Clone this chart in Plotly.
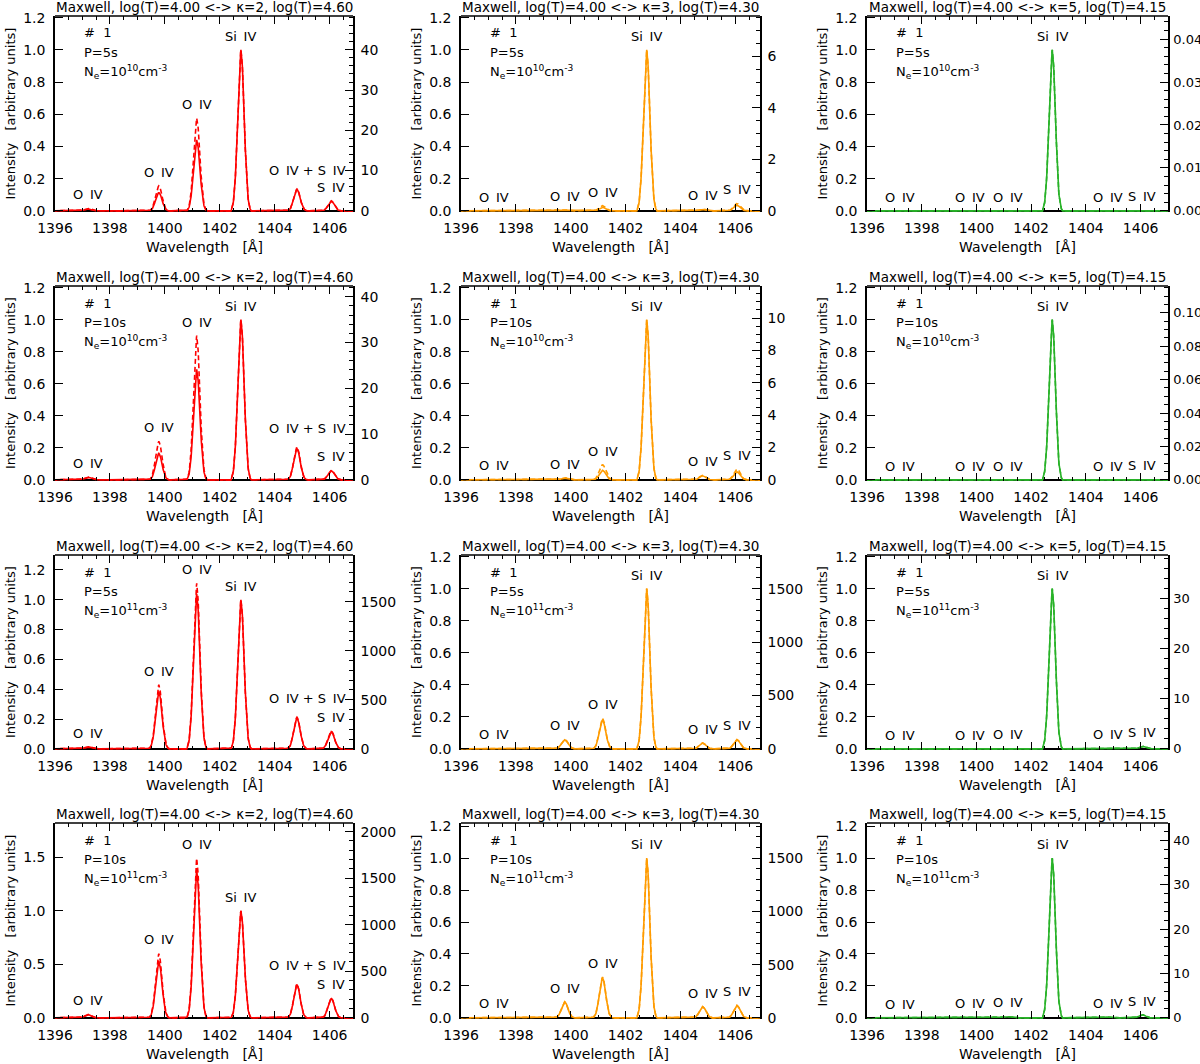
import numpy as np
import plotly.graph_objects as go

# ---------------- data ----------------
LINE_CENTERS = [1397.20, 1399.78, 1401.16, 1402.77, 1404.81, 1406.06]
LINE_NAMES_K2 = ["O  IV", "O  IV", "O  IV", "Si  IV", "O  IV + S  IV", "S  IV"]
LINE_NAMES = ["O  IV", "O  IV", "O  IV", "Si  IV", "O  IV", "S  IV"]

# normalised line profile (offset in Angstrom)
PROFILE_OFFSET = [-0.36, -0.32, -0.28, -0.24, -0.20, -0.16, -0.12, -0.08, -0.04, 0.0,
                  0.04, 0.08, 0.12, 0.16, 0.20, 0.24, 0.28, 0.32, 0.36]
PROFILE_SHAPE = [0.0, 0.02, 0.05, 0.11, 0.22, 0.38, 0.58, 0.79, 0.94, 1.0,
                 0.94, 0.79, 0.58, 0.38, 0.22, 0.11, 0.05, 0.02, 0.0]

KAPPA = ["2", "3", "5"]
LOGT_KAPPA = ["4.60", "4.30", "4.15"]
PERIOD = ["5s", "10s", "5s", "10s"]
DENSITY_EXP = ["10", "10", "11", "11"]

# peak amplitudes per line (left axis units): solid and dashed curves
R1_K2_SOLID = [0.012, 0.114, 0.44, 1.00, 0.133, 0.060]
R1_K2_DASHED = [0.015, 0.155, 0.575, 1.00, 0.135, 0.062]
R1_K3_SOLID = [0.0, 0.004, 0.022, 1.00, 0.008, 0.035]
R1_K3_DASHED = [0.0, 0.006, 0.032, 1.00, 0.010, 0.045]
R1_K5_SOLID = [0.0, 0.0, 0.0, 1.00, 0.0, 0.002]
R1_K5_DASHED = [0.0, 0.0, 0.0, 1.00, 0.0, 0.002]

R2_K2_SOLID = [0.015, 0.165, 0.69, 1.00, 0.195, 0.057]
R2_K2_DASHED = [0.018, 0.24, 0.90, 1.00, 0.205, 0.060]
R2_K3_SOLID = [0.0, 0.010, 0.060, 1.00, 0.025, 0.050]
R2_K3_DASHED = [0.002, 0.014, 0.095, 1.00, 0.028, 0.068]
R2_K5_SOLID = [0.0, 0.0, 0.001, 1.00, 0.001, 0.004]
R2_K5_DASHED = [0.0, 0.0, 0.001, 1.00, 0.001, 0.004]

R3_K2_SOLID = [0.012, 0.385, 1.04, 1.00, 0.207, 0.115]
R3_K2_DASHED = [0.014, 0.43, 1.11, 1.00, 0.212, 0.120]
R3_K3_SOLID = [0.003, 0.057, 0.18, 1.00, 0.036, 0.057]
R3_K3_DASHED = [0.003, 0.060, 0.19, 1.00, 0.037, 0.058]
R3_K5_SOLID = [0.0, 0.001, 0.003, 1.00, 0.003, 0.015]
R3_K5_DASHED = [0.0, 0.001, 0.003, 1.00, 0.003, 0.016]

R4_K2_SOLID = [0.030, 0.53, 1.38, 1.00, 0.31, 0.18]
R4_K2_DASHED = [0.033, 0.60, 1.49, 1.00, 0.315, 0.185]
R4_K3_SOLID = [0.004, 0.10, 0.25, 1.00, 0.070, 0.077]
R4_K3_DASHED = [0.004, 0.10, 0.255, 1.00, 0.070, 0.078]
R4_K5_SOLID = [0.0, 0.004, 0.008, 1.00, 0.006, 0.020]
R4_K5_DASHED = [0.0, 0.004, 0.008, 1.00, 0.006, 0.020]

SOLID = [[R1_K2_SOLID, R1_K3_SOLID, R1_K5_SOLID],
         [R2_K2_SOLID, R2_K3_SOLID, R2_K5_SOLID],
         [R3_K2_SOLID, R3_K3_SOLID, R3_K5_SOLID],
         [R4_K2_SOLID, R4_K3_SOLID, R4_K5_SOLID]]
DASHED = [[R1_K2_DASHED, R1_K3_DASHED, R1_K5_DASHED],
          [R2_K2_DASHED, R2_K3_DASHED, R2_K5_DASHED],
          [R3_K2_DASHED, R3_K3_DASHED, R3_K5_DASHED],
          [R4_K2_DASHED, R4_K3_DASHED, R4_K5_DASHED]]

# right-axis units per left-axis unit
RIGHT_SCALE_R1 = [40.0, 6.26, 0.0375]
RIGHT_SCALE_R2 = [35.0, 9.9, 0.0959]
RIGHT_SCALE_R3 = [1520.0, 1500.0, 32.0]
RIGHT_SCALE_R4 = [1150.0, 1500.0, 36.0]
RIGHT_SCALE = [RIGHT_SCALE_R1, RIGHT_SCALE_R2, RIGHT_SCALE_R3, RIGHT_SCALE_R4]
RIGHT_DTICK = [[10, 2, 0.01], [10, 2, 0.02], [500, 500, 10], [500, 500, 10]]
RIGHT_MINOR = [[2, 0.5, 0.002], [2, 0.5, 0.005], [100, 100, 2], [100, 100, 2]]

# ---------------- layout constants ----------------
W, H = 1200, 1064
COL_X = [(55, 353), (461, 760), (867, 1168)]
ROW_Y = [(16, 211), (286, 480), (555, 749), (823, 1018)]
X_RANGE = [[1396.0, 1406.85], [1396.0, 1406.9], [1396.0, 1407.0]]
Y_TOP = [[1.21, 1.21, 1.21], [1.21, 1.21, 1.21], [1.30, 1.21, 1.21], [1.82, 1.22, 1.22]]
COLORS = ["rgb(255,0,0)", "rgb(255,155,0)", "rgb(40,178,40)"]
FONT = "DejaVu Sans, Verdana, sans-serif"

x = np.round(np.arange(1395.9, 1407.2, 0.01), 3)


def spectrum(amps):
    y = np.zeros_like(x)
    for c, a in zip(LINE_CENTERS, amps):
        y += a * np.interp(x - c, PROFILE_OFFSET, PROFILE_SHAPE, left=0.0, right=0.0)
    return y


def px(v):
    return v / W


def py(v):
    return 1 - v / H


def sfx(i):
    return "" if i == 1 else str(i)


fig = go.Figure()
annotations = []
shapes = []
layout = {}

for r in range(4):
    for c in range(3):
        idx = r * 3 + c + 1
        ridx = idx + 12
        xa, ya, yra = "x" + sfx(idx), "y" + sfx(idx), "y" + sfx(ridx)
        x0, x1 = COL_X[c]
        t0, t1 = ROW_Y[r]
        top = Y_TOP[r][c]
        delta = top * 0.006
        f = RIGHT_SCALE[r][c]
        col = COLORS[c]

        fig.add_trace(go.Scatter(x=x, y=spectrum(DASHED[r][c]), xaxis=xa, yaxis=ya, mode="lines",
                                 line=dict(color=col, width=1.6, dash="5px,3px"),
                                 showlegend=False, hoverinfo="skip"))
        fig.add_trace(go.Scatter(x=x, y=spectrum(SOLID[r][c]), xaxis=xa, yaxis=ya, mode="lines",
                                 line=dict(color=col, width=1.6),
                                 showlegend=False, hoverinfo="skip"))
        # invisible trace so the right axis is drawn
        fig.add_trace(go.Scatter(x=[X_RANGE[c][0] + 1], y=[0], xaxis=xa, yaxis=yra, mode="markers",
                                 marker=dict(opacity=0), showlegend=False, hoverinfo="skip"))

        tickfont = dict(family=FONT, size=14, color="black")
        layout["xaxis" + sfx(idx)] = dict(
            domain=[px(x0), px(x1)], anchor=ya, range=X_RANGE[c],
            tick0=1396, dtick=2, ticks="inside", ticklen=8, tickwidth=1.2, tickcolor="black",
            mirror="ticks", showline=False, showgrid=False, zeroline=False,
            tickfont=tickfont, ticklabelstandoff=6, automargin=False,
            minor=dict(dtick=0.5, tick0=1396, ticks="inside", ticklen=4, tickcolor="black", showgrid=False),
        )
        ytick = 0.5 if top > 1.5 else 0.2
        layout["yaxis" + sfx(idx)] = dict(
            domain=[py(t1 + 1), py(t0)], anchor=xa, range=[-delta, top],
            tick0=0, dtick=ytick, tickformat=".1f", ticks="inside", ticklen=8, tickwidth=1.2,
            tickcolor="black", showline=True, linecolor="black", linewidth=1.5,
            showgrid=False, zeroline=True, zerolinecolor="black", zerolinewidth=1.8,
            tickfont=tickfont, ticklabelstandoff=5, automargin=False,
        )
        rfmt = ".2f" if RIGHT_DTICK[r][c] < 0.1 else "d"
        rfont = dict(family=FONT, size=13 if c == 2 else 14, color="black")
        layout["yaxis" + sfx(ridx)] = dict(
            overlaying=ya, side="right", anchor=xa, range=[-delta * f, top * f],
            tick0=0, dtick=RIGHT_DTICK[r][c], tickformat=rfmt, ticks="inside", ticklen=8,
            tickwidth=1.2, tickcolor="black", showline=True, linecolor="black", linewidth=1.5,
            showgrid=False, zeroline=False, tickfont=rfont,
            ticklabelstandoff=1 if c == 2 else 3, automargin=False,
            minor=dict(dtick=RIGHT_MINOR[r][c], tick0=0, ticks="inside", ticklen=4,
                       tickcolor="black", showgrid=False),
        )
        # top frame line
        shapes.append(dict(type="line", xref=f"{xa} domain", yref=f"{ya} domain",
                           x0=0, x1=1, y0=1, y1=1, line=dict(color="black", width=1.5)))

        # panel title
        annotations.append(dict(
            x=px((x0 + x1) / 2), y=py(t0 - 9), xref="paper", yref="paper",
            text=f"Maxwell, log(T)=4.00 &lt;-&gt; κ={KAPPA[c]}, log(T)={LOGT_KAPPA[c]}",
            showarrow=False, xanchor="center", yanchor="middle",
            font=dict(family=FONT, size=13.5, color="black")))
        # axis titles
        annotations.append(dict(
            x=px((x0 + x1) / 2), y=py(t1 + 36), xref="paper", yref="paper",
            text="Wavelength\u00a0\u00a0\u00a0[Å]", showarrow=False, xanchor="center", yanchor="middle",
            font=dict(family=FONT, size=14, color="black")))
        annotations.append(dict(
            x=px(x0 - 45), y=py((t0 + t1) / 2), xref="paper", yref="paper",
            text="Intensity\u00a0\u00a0\u00a0[arbitrary units]", textangle=-90, showarrow=False,
            xanchor="center", yanchor="middle",
            font=dict(family=FONT, size=13, color="black")))
        # in-panel info text
        info = ["#\u00a0\u00a01", f"P={PERIOD[r]}",
                f"N<sub>e</sub>=10<sup>{DENSITY_EXP[r]}</sup>cm<sup>-3</sup>"]
        for k, txt in enumerate(info):
            annotations.append(dict(
                x=px(x0 + 27), y=py(t0 + 17 + 19.5 * k), xref="paper", yref="paper",
                text=txt, showarrow=False, xanchor="left", yanchor="middle",
                font=dict(family=FONT, size=13, color="black")))
        # line identifications
        names = LINE_NAMES_K2 if c == 0 else LINE_NAMES
        for i, name in enumerate(names):
            peak = max(SOLID[r][c][i], DASHED[r][c][i])
            lx = LINE_CENTERS[i] + (0.4 if (c == 0 and i == 4) else 0.0)
            extra = 0.025 * top if (c == 0 and i == 4) else 0.0
            annotations.append(dict(
                x=lx, y=peak + 0.07 * top + extra, xref=xa, yref=ya,
                text=name.replace("  ", "\u00a0\u2009").replace(" ", "\u00a0"),
                showarrow=False, xanchor="center", yanchor="middle",
                font=dict(family=FONT, size=13, color="black")))

fig.update_layout(
    width=W, height=H, margin=dict(l=0, r=0, t=0, b=0, autoexpand=False),
    paper_bgcolor="white", plot_bgcolor="white", showlegend=False,
    annotations=annotations, shapes=shapes, **layout)

fig.write_html("out.html", config={"displayModeBar": False},
               post_script="document.body.style.margin='0px';document.body.style.overflow='hidden';")
